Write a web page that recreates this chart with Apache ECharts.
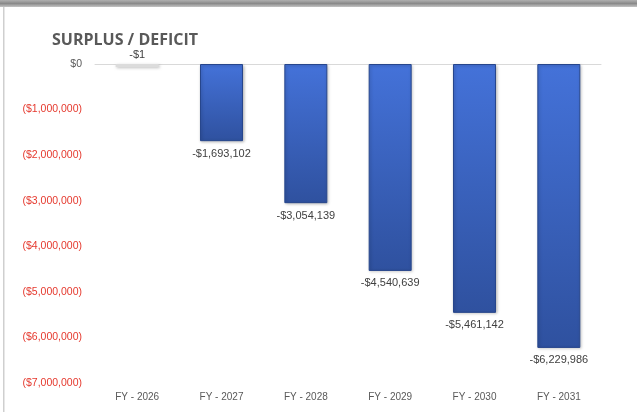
<!DOCTYPE html>
<html>
<head>
<meta charset="utf-8">
<script src="https://cdn.jsdelivr.net/npm/echarts@6/dist/echarts.min.js"></script>
<style>
  html, body { margin: 0; padding: 0; background: #fff; }
  #chart { width: 637px; height: 412px; }
</style>
</head>
<body>
<div id="chart"></div>
<script>
// data
const years = ['FY - 2026', 'FY - 2027', 'FY - 2028', 'FY - 2029', 'FY - 2030', 'FY - 2031']
const balance = [-1, -1693102, -3054139, -4540639, -5461142, -6229986]
const yTicks = { min: -7000000, max: 0, step: 1000000 }

const money = v => '$' + Math.abs(v).toLocaleString('en-US')

const chart = echarts.init(document.getElementById('chart'))

const barGradient = new echarts.graphic.LinearGradient(0, 0, 0, 1, [
    { offset: 0, color: '#4472d9' },
    { offset: 1, color: '#2f519f' }
])

chart.setOption({
    animation: false,
    title: {
        text: 'SURPLUS / DEFICIT',
        left: 47,
        top: 27,
        textStyle: { fontFamily: 'Open Sans', fontSize: 16, fontWeight: 'bold', color: '#595959' }
    },
    grid: { left: 95, right: 36, top: 64, bottom: 29 },
    xAxis: [{
        type: 'category',
        data: years,
        position: 'bottom',
        axisLine: { show: false, onZero: false },
        axisTick: { show: false },
        axisLabel: { color: '#595959', fontFamily: 'Liberation Sans', fontSize: 10, margin: 9 }
    }, {
        // zero line across the top of the plot
        type: 'category',
        data: years,
        position: 'top',
        axisLine: { show: true, onZero: false, lineStyle: { color: '#d9d9d9', width: 1 } },
        axisTick: { show: false },
        axisLabel: { show: false }
    }],
    yAxis: {
        type: 'value',
        min: yTicks.min,
        max: yTicks.max,
        interval: yTicks.step,
        splitLine: { show: false },
        axisLine: { show: false },
        axisTick: { show: false },
        axisLabel: {
            margin: 13,
            fontFamily: 'Liberation Sans',
            fontSize: 10.5,
            color: v => (v == 0 ? '#595959' : '#e5392e'),
            formatter: v => (v == 0 ? '$0' : '(' + money(v) + ')')
        }
    },
    graphic: [
        {
            type: 'rect',
            shape: { x: 0, y: 0, width: 637, height: 7 },
            style: {
                fill: new echarts.graphic.LinearGradient(0, 0, 0, 1, [
                    { offset: 0, color: '#b0b0b0' },
                    { offset: 0.5, color: '#8a8a8a' },
                    { offset: 1, color: '#c4c4c4' }
                ])
            },
            silent: true
        },
        {
            type: 'rect',
            shape: { x: 3, y: 7, width: 1.5, height: 405 },
            style: { fill: '#cfcfcf' },
            silent: true
        }
    ],
    series: [{
        type: 'bar',
        data: balance.map((v, i) => i === 0
            ? { value: v, itemStyle: { color: '#dcdcdc', borderWidth: 0 }, label: { position: 'top', distance: 4 } }
            : v),
        barWidth: '51%',
        barMinHeight: 3,
        itemStyle: {
            color: barGradient,
            borderColor: '#27468c',
            borderWidth: 1,
            shadowColor: 'rgba(0,0,0,0.25)',
            shadowBlur: 3,
            shadowOffsetX: 1,
            shadowOffsetY: 1
        },
        label: {
            show: true,
            position: 'bottom',
            distance: 7,
            color: '#404040',
            fontFamily: 'Liberation Sans',
            fontSize: 11,
            formatter: p => (p.value < 0 ? '-' : '') + money(p.value)
        }
    }]
})
</script>
</body>
</html>
